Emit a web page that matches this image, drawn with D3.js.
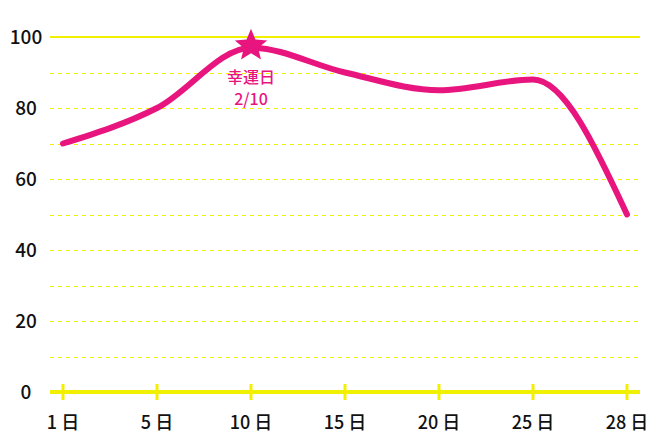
<!DOCTYPE html>
<html><head><meta charset="utf-8">
<script src="https://cdn.jsdelivr.net/npm/d3@7"></script>
<style>body{margin:0;background:#fff}</style>
</head><body>
<script>
const w = 660, h = 440;
const days = ['1', '5', '10', '15', '20', '25', '28'];
const values = [70, 80, 97, 90, 85, 88, 50];
const yTicks = [0, 20, 40, 60, 80, 100];
const luckyDay = '10', luckyLabel = ['幸運日', '2/10'];

const yellow = '#f0f000', pink = '#e8157f';
const font = "'Noto Sans CJK JP', sans-serif";

const svg = d3.select('body').append('svg').attr('width', w).attr('height', h);

const x = d3.scalePoint().domain(days).range([63, 627]);
const y = d3.scaleLinear().domain([0, 100]).range([392, 37]);

// grid
svg.selectAll('line.grid')
	.data(d3.range(10, 100, 10))
	.enter().append('line')
	.attr('x1', 50).attr('x2', 640)
	.attr('y1', d => Math.round(y(d)) + 0.5).attr('y2', d => Math.round(y(d)) + 0.5)
	.attr('stroke', yellow).attr('stroke-width', 1).attr('stroke-dasharray', '4,4');

svg.append('line').attr('x1', 50).attr('x2', 640).attr('y1', y(100)).attr('y2', y(100))
	.attr('stroke', yellow).attr('stroke-width', 2);

// x axis
svg.append('line').attr('x1', 50).attr('x2', 640).attr('y1', y(0)).attr('y2', y(0))
	.attr('stroke', yellow).attr('stroke-width', 4);
svg.selectAll('line.xt').data(days).enter().append('line')
	.attr('x1', d => x(d)).attr('x2', d => x(d))
	.attr('y1', y(0) - 8).attr('y2', y(0) + 8)
	.attr('stroke', yellow).attr('stroke-width', 3);
svg.selectAll('text.xl').data(days).enter().append('text')
	.text(d => d + ' 日')
	.attr('x', d => x(d)).attr('y', 429)
	.attr('text-anchor', 'middle').attr('font-size', 18).attr('font-weight', 500)
	.attr('font-family', font).attr('fill', '#111');

// y labels
svg.selectAll('text.yl').data(yTicks).enter().append('text')
	.text(d => d)
	.attr('x', 26).attr('y', d => y(d) + 7)
	.attr('text-anchor', 'middle').attr('font-size', 19).attr('font-weight', 500)
	.attr('font-family', font).attr('fill', '#111');

// line
const line = d3.line().x((d, i) => x(days[i])).y(d => y(d)).curve(d3.curveMonotoneX);
svg.append('path').datum(values).attr('d', line)
	.attr('fill', 'none').attr('stroke', pink).attr('stroke-width', 6).attr('stroke-linecap', 'round');

// star
const li = days.indexOf(luckyDay);
const R = 17, r = 7.5;
const starPts = d3.range(10).map(i => {
	const a = -Math.PI / 2 + i * Math.PI / 5, rr = i % 2 ? r : R;
	return [rr * Math.cos(a), rr * Math.sin(a)];
});
svg.append('path')
	.attr('d', d3.line()(starPts) + 'Z')
	.attr('transform', `translate(${x(luckyDay)},${y(values[li]) - 2})`)
	.attr('fill', pink);
svg.selectAll('text.lucky').data(luckyLabel).enter().append('text')
	.text(d => d)
	.attr('x', x(luckyDay)).attr('y', (d, i) => 83 + i * 22)
	.attr('text-anchor', 'middle').attr('font-size', 16).attr('font-weight', 500)
	.attr('font-family', font).attr('fill', pink);
</script>
</body></html>
